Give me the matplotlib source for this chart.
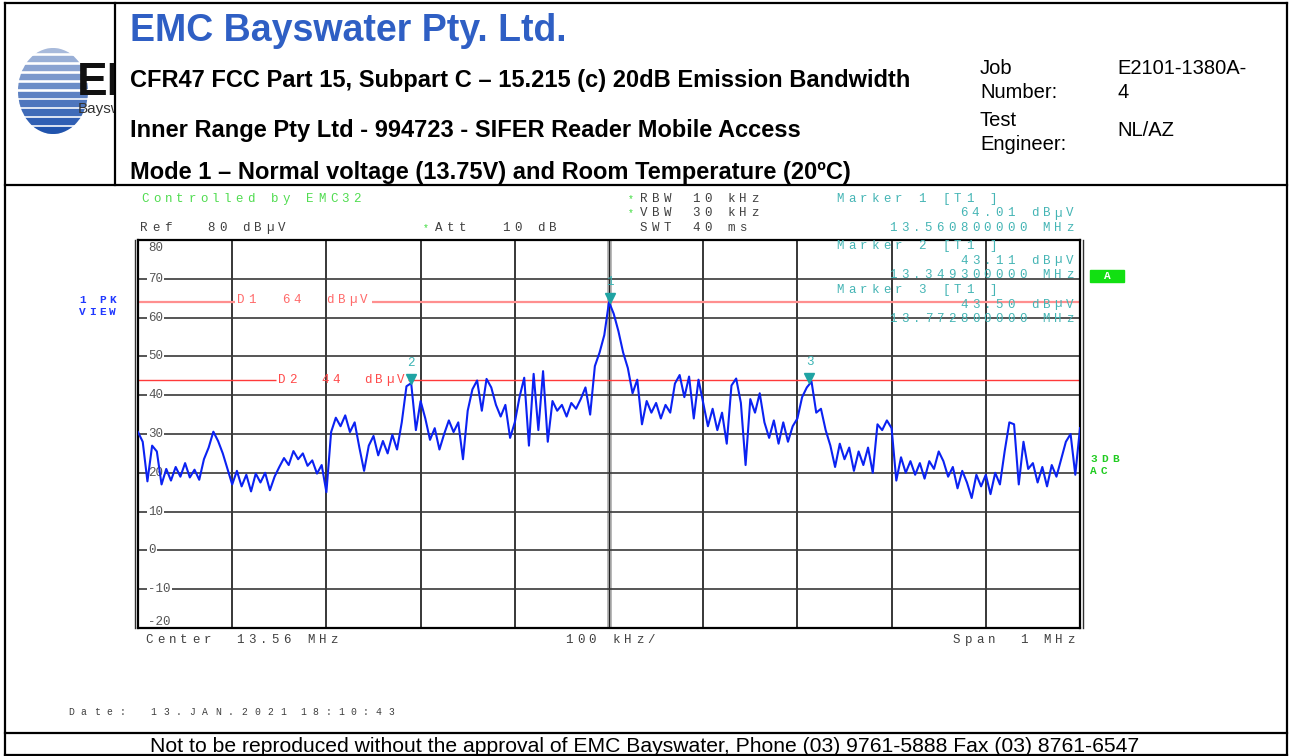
import numpy as np
import matplotlib
matplotlib.use('Agg')
import matplotlib.pyplot as plt
from matplotlib.patches import Rectangle, Ellipse
from matplotlib.transforms import offset_copy, blended_transform_factory

# analyser settings
center_mhz = 13.56
span_mhz = 1.0
step_khz = 5

# trace, one value every 5 kHz from 13.06 to 14.06 MHz (dBuV)
level_dbuv = [
    30.5, 28.0, 17.8, 27.0, 25.5, 17.0, 21.0, 18.0, 21.5, 19.0,
    22.5, 18.8, 20.8, 18.2, 23.5, 26.5, 30.6, 28.2, 25.0, 21.0,
    17.0, 20.5, 16.5, 19.5, 15.2, 19.8, 17.5, 20.0, 15.5, 19.0,
    21.5, 23.8, 22.0, 25.6, 23.5, 25.0, 21.8, 23.2, 19.8, 22.0,
    15.0, 30.5, 34.2, 32.0, 34.8, 30.5, 33.0, 26.5, 20.5, 27.0,
    29.5, 24.5, 28.2, 25.0, 29.8, 26.0, 33.0, 42.3, 43.1, 31.0,
    38.5, 34.0, 28.5, 31.5, 26.0, 30.0, 33.5, 30.5, 33.0, 23.5,
    36.0, 41.5, 43.8, 36.0, 44.2, 42.0, 37.5, 34.5, 37.5, 29.0,
    33.0, 39.5, 44.5, 27.0, 45.5, 31.0, 46.2, 28.0, 38.5, 36.0,
    37.5, 34.5, 38.0, 36.5, 39.0, 42.0, 35.0, 47.5, 51.0, 55.5,
    64.01, 61.0, 56.5, 51.0, 47.0, 40.5, 44.0, 32.5, 38.5, 35.5,
    38.0, 34.0, 37.5, 35.5, 43.0, 45.2, 39.5, 44.8, 34.0, 44.0,
    38.0, 32.0, 36.5, 31.0, 35.5, 27.5, 42.5, 44.3, 38.0, 22.0,
    39.0, 35.5, 40.5, 33.0, 29.0, 33.5, 27.5, 33.0, 28.0, 32.0,
    34.0, 39.5, 42.0, 43.5, 35.5, 36.5, 31.0, 27.0, 21.5, 27.5,
    23.5, 26.5, 20.5, 25.5, 22.0, 26.5, 20.0, 32.5, 31.0, 33.5,
    31.5, 18.0, 24.0, 20.0, 23.0, 19.5, 22.5, 18.5, 23.0, 21.0,
    25.5, 23.0, 19.0, 21.5, 16.0, 20.5, 17.5, 13.5, 19.5, 16.5,
    19.5, 14.5, 20.0, 17.0, 25.5, 33.0, 32.5, 17.0, 28.0, 21.0,
    22.5, 17.5, 21.5, 16.5, 22.0, 19.0, 23.5, 28.0, 30.0, 19.5, 31.5,
]

marker_freq = [13.5608, 13.3493, 13.7728]
marker_level = [64.01, 43.11, 43.50]
display_lines = [64, 44]
y_ticks = [80, 70, 60, 50, 40, 30, 20, 10, 0, -10, -20]

f_start = center_mhz - span_mhz / 2
f_stop = center_mhz + span_mhz / 2
freq_mhz = f_start + np.arange(len(level_dbuv)) * step_khz / 1000.0

W, H = 1290, 756
fig = plt.figure(figsize=(W / 100, H / 100), dpi=100)
fig.patch.set_facecolor('white')

# spectrum axes
ax = fig.add_axes([138 / W, (H - 628) / H, 942 / W, 388 / H])
ax.set_xlim(f_start, f_stop)
ax.set_ylim(-20, 80)
ax.set_xticks([])
ax.set_yticks([])
for s in ax.spines.values():
    s.set_linewidth(1.6)
    s.set_color('black')

for k in range(1, 10):
    fx = f_start + k * span_mhz / 10
    if k == 5:
        ax.axvline(fx, color='#b4b4b4', lw=3.5, zorder=1)
        ax.axvline(fx, color='#202020', lw=0.9, zorder=1)
    else:
        ax.axvline(fx, color='#282828', lw=1.3, zorder=1)
for v in y_ticks[1:-1]:
    ax.axhline(v, color='#383838', lw=1.2, zorder=1)

bt = blended_transform_factory(ax.transAxes, ax.transData)
for v in y_ticks:
    yv = v
    if v == 80:
        yv = 78
    if v == -20:
        yv = -18.5
    ax.text(0.0105, yv, str(v), transform=bt, fontsize=9, family='Liberation Mono',
            color='#555555', va='center', ha='left', zorder=2,
            bbox=dict(facecolor='white', edgecolor='none', pad=1.0))

# display lines D1 / D2, broken where their labels sit
ax.hlines([display_lines[0]] * 2, [f_start, 13.3085], [13.163, f_stop], color='#ff8f8f', lw=1.6, zorder=2)
ax.hlines([display_lines[1]] * 2, [f_start, 13.3465], [13.2065, f_stop], color='#ff3a3a', lw=1.0, zorder=2)

ax.plot(freq_mhz, level_dbuv, color='#0b22f2', lw=1.5, zorder=3)

teal = '#1fa3a3'
tri = offset_copy(ax.transData, fig=fig, x=0, y=4, units='dots')
for i, (mf, mv) in enumerate(zip(marker_freq, marker_level)):
    ax.plot(mf, mv, marker='v', ms=7, color=teal, transform=tri, zorder=4, clip_on=False)
    ax.annotate(str(i + 1), (mf, mv), xytext=(0, 10), textcoords='offset points',
                ha='center', va='bottom', fontsize=9, family='Liberation Mono',
                color='#3cb4b4', zorder=4)

# overlay in pixel coordinates for the report frame and the analyser texts
ov = fig.add_axes([0, 0, 1, 1])
ov.set_xlim(0, W)
ov.set_ylim(H, 0)
ov.axis('off')
ov.set_zorder(5)
ov.patch.set_alpha(0)


def mono(x, y, s, color='#404040', size=9, pitch=11.8, weight='normal', ha='left'):
    if ha == 'right':
        x = x - len(s) * pitch
    for i, c in enumerate(s):
        if c != ' ':
            ov.text(x + i * pitch, y, c, fontsize=size, family='Liberation Mono',
                    color=color, weight=weight, ha='left', va='center')


# frame
k = dict(color='black', lw=1.6)
ov.plot([5, 1287], [3, 3], **k)
ov.plot([5, 1287], [185, 185], **k)
ov.plot([5, 5], [3, 755], **k)
ov.plot([1287, 1287], [3, 755], **k)
ov.plot([115, 115], [3, 185], **k)
ov.plot([5, 1287], [733, 733], **k)
ov.plot([5, 1287], [755, 755], **k)
ov.plot([135, 135], [240, 628], color='#303030', lw=1.0)
ov.plot([1083, 1083], [240, 628], color='#303030', lw=1.0)

# logo
ell = Ellipse((53, 91), 70, 86, transform=ov.transData)
top_c = np.array([0.66, 0.73, 0.86])
bot_c = np.array([0.13, 0.33, 0.68])
for j in range(10):
    t = j / 9
    r = Rectangle((16, 47 + j * 8.9), 82 - 12 * abs(t - 0.5), 5.4,
                  color=tuple(top_c * (1 - t) + bot_c * t))
    ov.add_patch(r)
    r.set_clip_path(ell)
clip = Rectangle((0, 0), 114, 185, transform=ov.transData)
em = ov.text(77, 83, 'EM', fontsize=33, weight='bold', family='Liberation Sans',
             color='#111111', va='center', ha='left')
em.set_clip_on(True)
em.set_clip_path(clip)
bays = ov.text(78, 109, 'Bayswater', fontsize=11, family='Liberation Sans',
               color='#333333', va='center', ha='left')
bays.set_clip_on(True)
bays.set_clip_path(clip)

# header
ov.text(130, 31, 'EMC Bayswater Pty. Ltd.', fontsize=27, weight='bold',
        family='Liberation Sans', color='#2f5fc4', va='center')
hd = dict(fontsize=17, weight='bold', family='Liberation Sans', color='black', va='center')
ov.text(130, 81, 'CFR47 FCC Part 15, Subpart C \u2013 15.215 (c) 20dB Emission Bandwidth', **hd)
ov.text(130, 131, 'Inner Range Pty Ltd - 994723 - SIFER Reader Mobile Access', **hd)
ov.text(130, 172, 'Mode 1 \u2013 Normal voltage (13.75V) and Room Temperature (20\u00baC)', **hd)
rt = dict(fontsize=14.5, family='Liberation Sans', color='black', va='center')
ov.text(980, 68, 'Job', **rt)
ov.text(980, 92, 'Number:', **rt)
ov.text(980, 120, 'Test', **rt)
ov.text(980, 144, 'Engineer:', **rt)
ov.text(1117, 68, 'E2101-1380A-', **rt)
ov.text(1117, 92, '4', **rt)
ov.text(1117, 131, 'NL/AZ', **rt)

# analyser annotations
green = '#3ddc3d'
mono(141, 199, 'Controlled by EMC32', color='#50dc50')
mono(140, 228, 'Ref')
mono(207, 228, '80 dB\u00b5V')
mono(423, 228, '*', color=green, size=7)
mono(435, 228, 'Att')
mono(502, 228, '10 dB')
mono(628, 199, '*', color=green, size=7)
mono(640, 199, 'RBW')
mono(692, 199, '10 kHz')
mono(628, 213, '*', color=green, size=7)
mono(640, 213, 'VBW')
mono(692, 213, '30 kHz')
mono(640, 228, 'SWT')
mono(692, 228, '40 ms')

mcol = '#45b5b5'
for i, (mf, mv) in enumerate(zip(marker_freq, marker_level)):
    y0 = [199, 246, 290][i]
    mono(836, y0, 'Marker %d [T1 ]' % (i + 1), color=mcol)
    mono(1078, y0 + 14.5, '%.2f dB\u00b5V' % mv, color=mcol, ha='right')
    mono(1078, y0 + 29, '%.9f MHz' % mf, color=mcol, ha='right')

mono(237, 300, 'D1  64  dB\u00b5V', color='#ff6a6a', pitch=11.2)
mono(278, 380, 'D2  44  dB\u00b5V', color='#ff4a4a', pitch=10.8)

mono(79, 300, '1 PK', color='#2038ff', pitch=10, weight='bold', size=8)
mono(79, 312, 'VIEW', color='#2038ff', pitch=10, weight='bold', size=8)
ov.add_patch(Rectangle((1090, 270), 34, 12, color='#12e012'))
ov.text(1107, 276, 'A', fontsize=8, family='Liberation Mono', weight='bold',
        color='white', ha='center', va='center')
mono(1090, 459, '3DB', color='#22cc22', pitch=11, weight='bold', size=8)
mono(1090, 471, 'AC', color='#22cc22', pitch=11, weight='bold', size=8)

mono(145, 640, 'Center')
mono(236, 640, '13.56 MHz')
mono(565, 640, '100 kHz/')
mono(953, 640, 'Span')
mono(1020, 640, '1 MHz')

mono(68, 712, 'Date:', size=7, pitch=12.8)
mono(150, 712, '13.JAN.2021', size=7, pitch=13)
mono(300, 712, '18:10:43', size=7, pitch=12.6)

ov.text(645, 746, 'Not to be reproduced without the approval of EMC Bayswater, Phone (03) 9761-5888 Fax (03) 8761-6547',
        fontsize=15.2, family='Liberation Sans', color='black', ha='center', va='center')

fig.savefig('out.png', dpi=100)
